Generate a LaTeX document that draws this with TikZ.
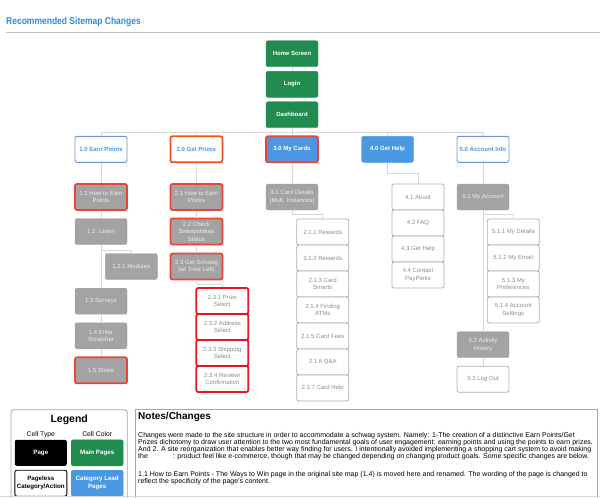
\documentclass[tikz,border=0pt]{standalone}
\usepackage{fontspec}
\setmainfont{Liberation Sans}
\definecolor{mgreen}{RGB}{34,139,80}
\definecolor{lblue}{RGB}{74,152,225}
\definecolor{cblue}{RGB}{105,148,205}
\definecolor{tblue}{RGB}{45,140,225}
\definecolor{pgray}{RGB}{163,163,163}
\definecolor{ptext}{RGB}{238,238,238}
\definecolor{agray}{RGB}{175,175,175}
\definecolor{atext}{RGB}{140,140,140}
\definecolor{lgray}{RGB}{215,215,215}
\definecolor{bgray}{RGB}{165,165,165}
\definecolor{hred}{RGB}{238,68,56}
\definecolor{ored}{RGB}{245,78,30}
\definecolor{pred}{RGB}{232,22,30}
\begin{document}
\begin{tikzpicture}[x=1pt,y=-1pt,
    box/.style={rounded corners=2pt,minimum width=52pt,minimum height=26pt,
      inner sep=1pt,align=center,font=\fontsize{6}{7.6}\selectfont},
    main/.style={box,fill=mgreen,draw=mgreen,text=white,
      font=\fontsize{6}{7.6}\selectfont\bfseries},
    lead/.style={box,fill=lblue,draw=lblue,text=white,
      font=\fontsize{6}{7.6}\selectfont\bfseries},
    cat/.style={box,fill=white,draw=cblue,line width=0.9pt,text=lblue,
      font=\fontsize{6}{7.6}\selectfont\bfseries},
    page/.style={box,fill=pgray,draw=pgray,text=ptext},
    act/.style={box,fill=white,draw=agray,line width=0.8pt,text=atext},
    hot/.style={draw=hred,line width=1.8pt},
    link/.style={draw=lgray,line width=0.6pt}]
  \useasboundingbox (0,0) rectangle (600,498);
  % title
  \node[anchor=base west,inner sep=0pt,text=tblue,font=\fontsize{10}{12}\selectfont\bfseries]
    (title) at (6,24.7) {\scalebox{0.85}[1]{Recommended Sitemap Changes}};
  \draw[draw=lgray!90!black,line width=0.8pt] (6,32.5) -- (600,32.5);
  % main pages
  \node[main] (home) at (292,53.7) {Home Screen};
  \node[main] (login) at (292,84.3) {Login};
  \node[main] (dash) at (292,114.7) {Dashboard};
  \node[cat] (c1) at (101,149.3) {1.0 Earn Points};
  \node[cat,draw=ored,line width=1.8pt] (c2) at (196.4,149.3) {2.0 Get Prizes};
  \node[lead,hot] (c3) at (292,149.3) {3.0 My Cards};
  \node[lead] (c4) at (387.5,149.3) {4.0 Get Help};
  \node[cat] (c5) at (483,149.3) {5.0 Account Info};
  % 1.x
  \node[page,hot] (p11) at (101,197) {1.1 How to Earn\\Points};
  \node[page] (p12) at (101,231.5) {1.2. Learn};
  \node[page] (p121) at (131.3,266.5) {1.2.1 Modules};
  \node[page] (p13) at (101,301.2) {1.3 Surveys};
  \node[page] (p14) at (101,335.8) {1.4 Enter\\Scratcher};
  \node[page,hot] (p15) at (101,370.3) {1.5 Share};
  % 2.x
  \node[page,hot] (p21) at (196.5,197) {2.1 How to Earn\\Prizes};
  \node[page,hot] (p22) at (196.5,231.5) {2.2 Check\\Sweepstakes\\Status};
  \node[page,hot] (p23) at (196.5,266.5) {2.3 Get Schwag\\(w/ Time Left)};
  \foreach \t [count=\i] in {{2.3.1 Prize\\Select},{2.3.2 Address\\Select},
      {2.3.3 Shipping\\Select},{2.3.4 Review/\\Confirmation}}
    \node[act,draw=pred,line width=1.8pt] (a23\i) at (222.3,{275+26*\i}) {\t};
  % 3.x
  \node[page] (p31) at (292,197) {3.1 Card Details\\(Mult. Instances)};
  \foreach \t [count=\i] in {2.1.1 Rewards,2.1.2 Rewards,{2.1.3 Card\\Smarts},
      {2.1.4 Finding\\ATMs},2.1.5 Card Fees,2.1.6 Q\&A,2.1.7 Card Help}
    \node[act] (a21\i) at (322.7,{206+26*\i}) {\t};
  % 4.x
  \foreach \t [count=\i] in {4.1 About,4.2 FAQ,4.3 Get Help,{4.4 Contact\\PayPerks}}
    \node[act] (a4\i) at (418,{171+26*\i}) {\t};
  % 5.x
  \node[page] (p51) at (483,197) {5.1 My Account};
  \foreach \t [count=\i] in {5.1.1 My Details,5.1.2 My Email,{5.1.3 My\\Preferences},
      {5.1.4 Account\\Settings}}
    \node[act] (a51\i) at (513.3,{206+26*\i}) {\t};
  \node[page] (p52) at (483,344.7) {5.2 Activity\\History};
  \node[act] (a53) at (483,379.2) {5.3 Log Out};
  % links
  \coordinate (bus) at (292,132);
  \draw[link] (home) -- (login) -- (dash) -- (c3);
  \draw[link] (c1.north) |- (bus) -| (c5.north);
  \draw[link] (c2.north) |- (bus) (c4.north) |- (bus);
  \draw[link] (c1) -- (p11) -- (p12) -- (p13) -- (p14) -- (p15);
  \draw[link] (p12.south) -- ++(0,5.5) -| (p121.north);
  \draw[link] (c2) -- (p21) -- (p22) -- (p23);
  \draw[link] (p23.south) -- ++(0,4) -| (a231.north);
  \draw[link] (c3) -- (p31);
  \draw[link] (p31.south) -- ++(0,4.3) -| (a211.north);
  \draw[link] (c4.south) -- ++(0,11) -| (a41.north);
  \draw[link] (c5) -- (p51) -- (p52) -- (a53);
  \draw[link] (p51.south) -- ++(0,4.3) -| (a511.north);
  % legend
  \draw[draw=bgray,rounded corners=3pt,line width=0.8pt] (11,409.7) rectangle (127.3,510);
  \node[anchor=base,font=\fontsize{10.5}{12}\selectfont\bfseries] (leg) at (69.2,422.3) {Legend};
  \node[anchor=base,font=\fontsize{6.8}{8}\selectfont] (ltype) at (40.8,436) {Cell Type};
  \node[anchor=base,font=\fontsize{6.8}{8}\selectfont] (lcolor) at (97.2,436) {Cell Color};
  \node[box,fill=black,text=white,font=\fontsize{6.2}{7.6}\selectfont\bfseries]
    (lpage) at (40.8,452.8) {Page};
  \node[main,font=\fontsize{6.2}{7.6}\selectfont\bfseries] (lmain) at (97.2,452.8) {Main Pages};
  \node[box,draw=black,line width=0.9pt,font=\fontsize{6.2}{7.6}\selectfont\bfseries]
    (lless) at (40.8,483.2) {Pageless\\Category/Action};
  \node[lead,font=\fontsize{6.2}{7.6}\selectfont\bfseries] (llead) at (97.2,483.2)
    {Category Lead\\Pages};
  % notes
  \draw[draw=bgray,line width=0.8pt] (135.3,409.3) rectangle (597.7,510);
  \node[anchor=base west,inner sep=0pt,font=\fontsize{10}{12}\selectfont\bfseries]
    (ntitle) at (138,419.5) {Notes/Changes};
  \node[anchor=north west,inner sep=0pt,align=left,font=\fontsize{7}{7}\selectfont]
    (nbody) at (138,432.5) {Changes were made to the site structure in order to accommodate a schwag system. Namely: 1-The creation of a distinctive Earn Points/Get\\
    Prizes dichotomy to draw user attention to the two most fundamental goals of user engagement: earning points and using the points to earn prizes.\\
    And 2. A site reorganization that enables better way finding for users. I intentionally avoided implementing a shopping cart system to avoid making\\
    the\hspace{25pt}: product feel like e-commerce, though that may be changed depending on changing product goals. Some specific changes are below.};
  \node[anchor=north west,inner sep=0pt,align=left,font=\fontsize{7}{7}\selectfont]
    (nmore) at (138,471.5) {1.1 How to Earn Points - The Ways to Win page in the original site map (1.4) is moved here and renamed. The wording of the page is changed to\\
    reflect the specificity of the page's content.};
  \draw[draw=lgray,line width=0.8pt] (0,496.5) -- (600,496.5);
\end{tikzpicture}
\end{document}
